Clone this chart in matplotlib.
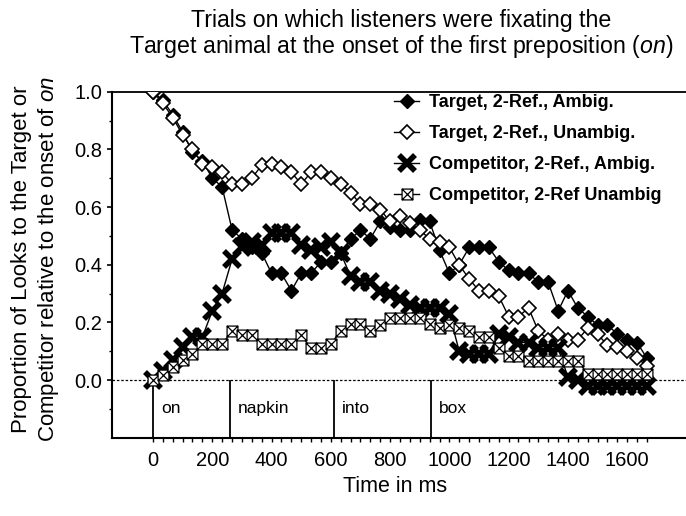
import matplotlib
matplotlib.use("Agg")
import matplotlib.pyplot as plt
from matplotlib.path import Path

plt.rcParams['font.family'] = ['Liberation Sans', 'DejaVu Sans']
plt.rcParams['mathtext.fontset'] = 'custom'
plt.rcParams['mathtext.rm'] = 'Liberation Sans'
plt.rcParams['mathtext.it'] = 'Liberation Sans:italic'

# ---------------- data ----------------
time_ms = [0, 33, 67, 100, 133, 167, 200, 233, 267, 300, 333, 367, 400, 433, 467, 500,
           533, 567, 600, 633, 667, 700, 733, 767, 800, 833, 867, 900, 933, 967, 1000,
           1033, 1067, 1100, 1133, 1167, 1200, 1233, 1267, 1300, 1333, 1367, 1400, 1433,
           1467, 1500, 1533, 1567, 1600, 1633, 1667]

target_ambig = [1.00, 0.97, 0.92, 0.86, 0.79, 0.76, 0.70, 0.67, 0.52, 0.49, 0.46, 0.44,
                0.37, 0.37, 0.31, 0.37, 0.37, 0.41, 0.41, 0.44, 0.49, 0.52, 0.49, 0.55,
                0.53, 0.52, 0.52, 0.555, 0.55, 0.45, 0.37, 0.40, 0.46, 0.46, 0.46, 0.41,
                0.38, 0.37, 0.37, 0.34, 0.34, 0.24, 0.31, 0.25, 0.22, 0.19, 0.19, 0.16,
                0.14, 0.13, 0.075]

target_unambig = [1.00, 0.96, 0.91, 0.85, 0.80, 0.75, 0.74, 0.72, 0.68, 0.68, 0.70, 0.745,
                  0.75, 0.74, 0.72, 0.68, 0.72, 0.72, 0.70, 0.68, 0.65, 0.61, 0.61, 0.59,
                  0.55, 0.57, 0.545, 0.52, 0.49, 0.48, 0.46, 0.40, 0.35, 0.31, 0.31, 0.29,
                  0.22, 0.22, 0.25, 0.17, 0.14, 0.16, 0.14, 0.14, 0.18, 0.16, 0.12, 0.115,
                  0.10, 0.075, 0.05]

comp_ambig = [0.00, 0.03, 0.07, 0.115, 0.15, 0.15, 0.24, 0.30, 0.42, 0.46, 0.48, 0.47,
              0.51, 0.51, 0.51, 0.47, 0.45, 0.46, 0.48, 0.44, 0.36, 0.34, 0.34, 0.31,
              0.30, 0.28, 0.26, 0.25, 0.25, 0.25, 0.23, 0.10, 0.09, 0.09, 0.09, 0.16,
              0.15, 0.13, 0.13, 0.11, 0.11, 0.11, 0.01, 0.00, -0.02, -0.02, -0.02, -0.02,
              -0.02, -0.02, -0.02]

comp_unambig = [0.00, 0.017, 0.045, 0.07, 0.09, 0.125, 0.125, 0.125, 0.17, 0.155, 0.155,
                0.125, 0.125, 0.125, 0.125, 0.155, 0.11, 0.11, 0.125, 0.17, 0.195, 0.195,
                0.17, 0.19, 0.215, 0.215, 0.215, 0.215, 0.195, 0.18, 0.19, 0.18, 0.17,
                0.15, 0.15, 0.11, 0.085, 0.085, 0.065, 0.065, 0.065, 0.065, 0.065, 0.065,
                0.022, 0.022, 0.022, 0.022, 0.022, 0.022, 0.022]

series_labels = ['Target, 2-Ref., Ambig.', 'Target, 2-Ref., Unambig.',
                 'Competitor, 2-Ref., Ambig.', 'Competitor, 2-Ref Unambig']

word_labels = ['on', 'napkin', 'into', 'box']
word_onsets = [0, 260, 611, 938]

x_tick_values = [0, 200, 400, 600, 800, 1000, 1200, 1400, 1600]
y_tick_values = [0.0, 0.2, 0.4, 0.6, 0.8, 1.0]
y_minor_values = [-0.1, 0.1, 0.3, 0.5, 0.7, 0.9]

# ---------------- figure ----------------
W, H = 686, 516
fig = plt.figure(figsize=(W / 100, H / 100), dpi=100)
ax_left, ax_right, ax_top, ax_bot = 112, 686, 91.7, 437.7
ax = fig.add_axes([ax_left / W, 1 - ax_bot / H, (ax_right - ax_left) / W, (ax_bot - ax_top) / H])

px_per_ms = 9.88 / 33.333
ax.set_xlim((ax_left - 153) / px_per_ms, (ax_right - 153) / px_per_ms)
ax.set_ylim(-0.2, 1.0)

# box-with-x marker
boxx = Path([(-1, -1), (1, -1), (1, 1), (-1, 1), (-1, -1), (-1, -1), (1, 1), (-1, 1), (1, -1)],
            [Path.MOVETO, Path.LINETO, Path.LINETO, Path.LINETO, Path.CLOSEPOLY,
             Path.MOVETO, Path.LINETO, Path.MOVETO, Path.LINETO])

ax.axhline(0, color='black', lw=0.9, ls=(0, (2, 1.5)), zorder=1)
ax.vlines(word_onsets, -0.2, 0, color='black', lw=1.3, zorder=1)
for w, t in zip(word_labels, word_onsets):
    ax.text(t + 27, -0.1, w, fontsize=12.5, ha='left', va='center')

ax.plot(time_ms, target_ambig, color='black', lw=1, marker='D', ms=6.9,
        mfc='black', mec='black', mew=1, label=series_labels[0], zorder=3)
ax.plot(time_ms, target_unambig, color='black', lw=1, marker='D', ms=6.9,
        mfc='white', mec='black', mew=1.2, label=series_labels[1], zorder=4)
ax.plot(time_ms, comp_ambig, color='black', lw=1, marker='x', ms=12,
        mew=4, label=series_labels[2], zorder=5)
ax.plot(time_ms, comp_unambig, color='black', lw=1, marker=boxx, ms=7.8,
        mfc='white', mec='black', mew=0.9, label=series_labels[3], zorder=6)

# axes styling
ax.spines['right'].set_visible(False)
ax.spines['top'].set_linewidth(1.3)
ax.spines['left'].set_linewidth(1.5)
ax.spines['bottom'].set_linewidth(1.5)

ax.set_yticks(y_tick_values)
ax.set_yticklabels(['%.1f' % v for v in y_tick_values])
ax.set_yticks(y_minor_values, minor=True)
ax.set_xticks(x_tick_values)
ax.set_xticklabels([str(v) for v in x_tick_values])
ax.set_xticks(time_ms, minor=True)
ax.tick_params(axis='y', which='major', direction='out', length=3.8, width=1.2,
               labelsize=14.5, pad=3)
ax.tick_params(axis='y', which='minor', direction='out', length=2.4, width=1.0)
ax.tick_params(axis='x', which='both', direction='out', length=2.6, width=1.0,
               labelsize=14.5, pad=7)

leg = ax.legend(loc='upper left', bbox_to_anchor=(394 / W, 1 - 94 / H),
                bbox_transform=fig.transFigure, frameon=False,
                prop={'weight': 'bold', 'size': 13}, handlelength=1.4,
                handletextpad=0.55, labelspacing=0.78, borderpad=0, borderaxespad=0)

fig.text(401 / W, 1 - 21 / H, 'Trials on which listeners were fixating the',
         ha='center', va='center', fontsize=16.7)
fig.text(401 / W, 1 - 46 / H,
         r'Target animal at the onset of the first preposition ($\mathit{on}$)',
         ha='center', va='center', fontsize=16.7)

fig.text(21.5 / W, 1 - 259 / H, 'Proportion of Looks to the Target or',
         rotation=90, ha='center', va='center', fontsize=16)
fig.text(49 / W, 1 - 259 / H, r'Competitor relative to the onset of $\mathit{on}$',
         rotation=90, ha='center', va='center', fontsize=16)

fig.text(395 / W, 1 - 487 / H, 'Time in ms', ha='center', va='center', fontsize=15.5)

fig.savefig('out.png', dpi=100)
